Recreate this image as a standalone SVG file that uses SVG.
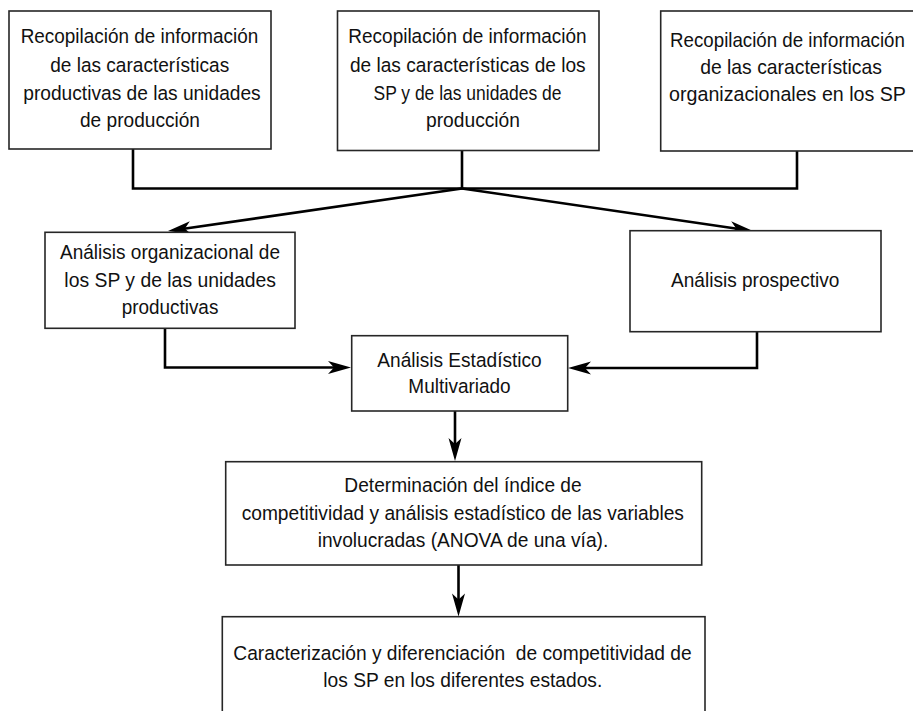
<svg xmlns="http://www.w3.org/2000/svg" width="913" height="711" viewBox="0 0 913 711">
<style>
  .box { fill: #ffffff; stroke: #262626; stroke-width: 1.6; }
  .lbl { font-family: "Liberation Sans Narrow", "Liberation Sans", Arial, sans-serif; font-size: 20.5px; fill: #111111; text-anchor: middle; }
  .con { fill: none; stroke: #000000; stroke-width: 2.6; }
</style>
<defs>
  <marker id="arr" markerUnits="userSpaceOnUse" markerWidth="24" markerHeight="14" refX="14" refY="6.5" orient="auto" overflow="visible">
    <path d="M0,0 L23,6.5 L0,13 L6,6.5 Z" fill="#000000"/>
  </marker>
</defs>
<rect width="913" height="711" fill="#ffffff"/>

<g id="connectors">
  <path class="con" d="M133,149 V188.5 H797 V151"/>
  <path class="con" d="M462,150.5 V188.5"/>
  <path class="con" d="M462,188.5 L176.9,229.8" marker-end="url(#arr)"/>
  <path class="con" d="M462,188.5 L744.1,229.7" marker-end="url(#arr)"/>
  <path class="con" d="M165,328.5 V367.5 H342" marker-end="url(#arr)"/>
  <path class="con" d="M757,331.5 V368 H577" marker-end="url(#arr)"/>
  <path class="con" d="M455,411 V452" marker-end="url(#arr)"/>
  <path class="con" d="M458.5,565 V607.5" marker-end="url(#arr)"/>
</g>

<g id="n1">
  <rect class="box" x="9" y="11" width="262" height="138"/>
  <text class="lbl" x="139.5" y="43.3" textLength="237.6" lengthAdjust="spacingAndGlyphs">Recopilación de información</text>
  <text class="lbl" x="139.7" y="71.5" textLength="179" lengthAdjust="spacingAndGlyphs">de las características</text>
  <text class="lbl" x="142" y="99.5" textLength="237.4" lengthAdjust="spacingAndGlyphs">productivas de las unidades</text>
  <text class="lbl" x="140" y="127.3" textLength="120" lengthAdjust="spacingAndGlyphs">de producción</text>
</g>

<g id="n2">
  <rect class="box" x="337.5" y="11" width="261.5" height="139.5"/>
  <text class="lbl" x="467.5" y="43.3" textLength="238.3" lengthAdjust="spacingAndGlyphs">Recopilación de información</text>
  <text class="lbl" x="467.8" y="71.5" textLength="235.7" lengthAdjust="spacingAndGlyphs">de las características de los</text>
  <text class="lbl" x="467.5" y="99.5" textLength="188" lengthAdjust="spacingAndGlyphs">SP y de las unidades de</text>
  <text class="lbl" x="473" y="127.3" textLength="94" lengthAdjust="spacingAndGlyphs">producción</text>
</g>

<g id="n3">
  <rect class="box" x="660.7" y="11" width="253.3" height="140"/>
  <text class="lbl" transform="translate(787.5,46.7) scale(0.912,1)" x="0" y="0">Recopilación de información</text>
  <text class="lbl" transform="translate(791,74) scale(0.944,1)" x="0" y="0">de las características</text>
  <text class="lbl" transform="translate(787.5,101) scale(0.958,1)" x="0" y="0">organizacionales en los SP</text>
</g>

<g id="n4">
  <rect class="box" x="45" y="232.3" width="250" height="96"/>
  <text class="lbl" x="170" y="259" textLength="220" lengthAdjust="spacingAndGlyphs">Análisis organizacional de</text>
  <text class="lbl" x="170.2" y="286.7" textLength="211.7" lengthAdjust="spacingAndGlyphs">los SP y de las unidades</text>
  <text class="lbl" x="170" y="314" textLength="96.7" lengthAdjust="spacingAndGlyphs">productivas</text>
</g>

<g id="n5">
  <rect class="box" x="630" y="230.7" width="251" height="101"/>
  <text class="lbl" x="755.2" y="286.7" textLength="168.3" lengthAdjust="spacingAndGlyphs">Análisis prospectivo</text>
</g>

<g id="n6">
  <rect class="box" x="351.7" y="335.7" width="216" height="75.3"/>
  <text class="lbl" x="459.5" y="366.7" textLength="164.3" lengthAdjust="spacingAndGlyphs">Análisis Estadístico</text>
  <text class="lbl" x="459.5" y="393.3" textLength="102.3" lengthAdjust="spacingAndGlyphs">Multivariado</text>
</g>

<g id="n7">
  <rect class="box" x="225.7" y="461.7" width="476" height="103.3"/>
  <text class="lbl" x="463" y="492.3" textLength="237.3" lengthAdjust="spacingAndGlyphs">Determinación del índice de</text>
  <text class="lbl" x="462.8" y="520" textLength="442.3" lengthAdjust="spacingAndGlyphs">competitividad y análisis estadístico de las variables</text>
  <text class="lbl" x="463" y="546.7" textLength="290.7" lengthAdjust="spacingAndGlyphs">involucradas (ANOVA de una vía).</text>
</g>

<g id="n8">
  <rect class="box" x="222.3" y="616.7" width="482.7" height="110"/>
  <text class="lbl" x="462.5" y="660" textLength="458.3" lengthAdjust="spacingAndGlyphs" xml:space="preserve">Caracterización y diferenciación  de competitividad de</text>
  <text class="lbl" x="462.8" y="686.7" textLength="279" lengthAdjust="spacingAndGlyphs">los SP en los diferentes estados.</text>
</g>
</svg>
